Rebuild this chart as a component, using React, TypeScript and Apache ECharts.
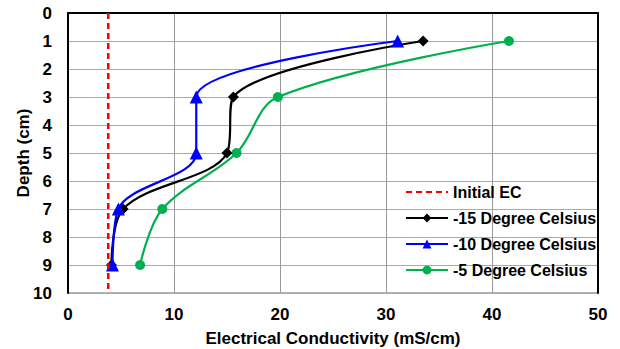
import React, { useEffect, useRef } from "react";
import * as echarts from "echarts";

const depths = [1, 3, 5, 7, 9];
const ecMinus15 = [33.5, 15.6, 15.0, 5.2, 4.1];
const ecMinus10 = [31.1, 12.1, 12.1, 4.75, 4.2];
const ecMinus5 = [41.6, 19.8, 15.9, 8.9, 6.8];
const initialEC = 3.8;
const initialDepths = [0, 10];
const seriesNames = ["Initial EC", "-15 Degree Celsius", "-10 Degree Celsius", "-5 Degree Celsius"];
const yAxisTitle = "Depth (cm)";
const xAxisTitle = "Electrical Conductivity (mS/cm)";

const FONT = "Arial, 'Liberation Sans', sans-serif";

export default function App() {
  const ref = useRef<HTMLDivElement>(null);
  useEffect(() => {
    if (!ref.current) return;
    const chart = echarts.init(ref.current, null, { renderer: "svg" });
    const pair = (xs: number[]) => xs.map((x, i) => [x, depths[i]]);
    const txt = { fontFamily: FONT, fontWeight: "bold" as const, fontSize: 17, color: "#000" };
    chart.setOption({
      animation: false,
      textStyle: { fontFamily: FONT, fontWeight: "bold" },
      grid: {
        left: 68,
        right: 22,
        top: 13,
        bottom: 56,
        show: true,
        borderColor: "#666",
        borderWidth: 1,
        outerBoundsMode: "none",
        containLabel: false,
      },
      graphic: [
        {
          type: "text",
          x: 23,
          y: 153,
          rotation: Math.PI / 2,
          style: {
            text: yAxisTitle,
            fontFamily: FONT,
            fontWeight: "bold",
            fontSize: 17,
            fill: "#000",
            align: "center",
            verticalAlign: "middle",
          },
        },
      ],
      legend: {
        orient: "vertical",
        left: 400,
        top: 179,
        itemWidth: 42,
        itemHeight: 11,
        itemGap: 10,
        textStyle: { ...txt, fontSize: 16 },
        data: [
          { name: seriesNames[0], itemStyle: { opacity: 0 } },
          seriesNames[1],
          seriesNames[2],
          seriesNames[3],
        ],
      },
      xAxis: {
        type: "value",
        min: 0,
        max: 50,
        interval: 10,
        name: xAxisTitle,
        nameLocation: "middle",
        nameGap: 37,
        nameTextStyle: { ...txt },
        axisLine: { lineStyle: { color: "#000", width: 2 } },
        axisTick: { show: false },
        axisLabel: { ...txt, margin: 13 },
        splitLine: { show: true, lineStyle: { color: "#999", width: 1 } },
      },
      yAxis: [
        {
          type: "value",
          inverse: true,
          min: 0,
          max: 10,
          interval: 1,
          axisLine: { show: true, lineStyle: { color: "#000", width: 2 } },
          axisTick: { show: false },
          axisLabel: { ...txt, margin: 16 },
          splitLine: { show: true, lineStyle: { color: "#aaa", width: 1 } },
        },
        {
          type: "value",
          inverse: true,
          min: 0,
          max: 10,
          interval: 1,
          position: "right",
          axisLine: { show: true, lineStyle: { color: "#000", width: 2 } },
          axisTick: { show: false },
          axisLabel: { show: false },
          splitLine: { show: false },
        },
      ],
      series: [
        {
          name: seriesNames[0],
          type: "line",
          data: initialDepths.map((d) => [initialEC, d]),
          symbol: "none",
          lineStyle: { color: "#ff0000", width: 2.5, type: [6, 4] },
          itemStyle: { color: "#ff0000" },
          z: 5,
        },
        {
          name: seriesNames[1],
          type: "line",
          data: pair(ecMinus15),
          smooth: 0.35,
          symbol: "diamond",
          symbolSize: 11,
          lineStyle: { color: "#000", width: 2.2 },
          itemStyle: { color: "#000" },
          z: 3,
        },
        {
          name: seriesNames[2],
          type: "line",
          data: pair(ecMinus10),
          smooth: 0.35,
          symbol: "triangle",
          symbolSize: 13,
          lineStyle: { color: "#0000ff", width: 2.2 },
          itemStyle: { color: "#0000ff" },
          z: 4,
        },
        {
          name: seriesNames[3],
          type: "line",
          data: pair(ecMinus5),
          smooth: 0.35,
          symbol: "circle",
          symbolSize: 10,
          lineStyle: { color: "#00b050", width: 2.2 },
          itemStyle: { color: "#00b050" },
          z: 2,
        },
      ],
    });
    return () => chart.dispose();
  }, []);
  return <div ref={ref} style={{ width: 620, height: 349, position: "absolute", left: 0, top: 0, background: "#fff" }} />;
}
